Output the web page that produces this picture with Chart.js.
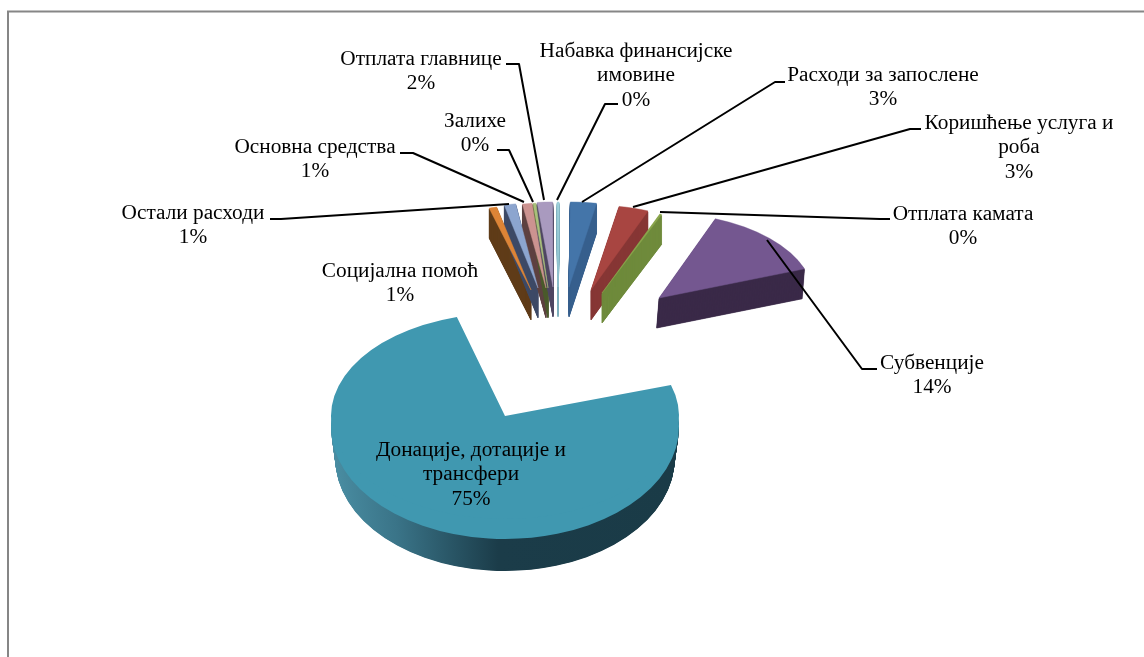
<!DOCTYPE html>
<html><head><meta charset="utf-8">
<style>html,body{margin:0;padding:0;background:#fff;overflow:hidden}canvas{display:block}</style>
<script src="https://cdn.jsdelivr.net/npm/chart.js@4"></script>
</head><body><canvas id="c" width="1144" height="657"></canvas>
<script>
// Data
const categories = ['Расходи за запослене','Коришћење услуга и роба','Отплата камата','Субвенције','Донације, дотације и трансфери','Социјална помоћ','Остали расходи','Основна средства','Залихе','Отплата главнице','Набавка финансијске имовине'];
const shares = [2.7,3.1,0.2,13.5,75.4,0.8,1.2,1.0,0.3,1.6,0.2];

// Styling
const topColors  = ['#4475a9','#a84541','#8aa64c','#745790','#4098b0','#dd8436','#8ca5cf','#cc9390','#a9c07a','#a99abf','#9fd0dc'];
const wallColors = ['#375f8e','#873634','#6f8b3c','#3a2a48',null,'#5f3c18','#3d4a66','#5e4140','#4c5a2c','#4f4763','#7fb0bd'];
const explodeX = [-3,19,30,87,-67,-41,-34,-26,-24,-19,-14];
const explodeY = [-41.5,-38.5,-35.5,-30.5,98.5,-38.5,-40.5,-40.5,-40.5,-41.5,-41.5];
const radiusX  = [155,155,155,155,174,155,155,155,155,155,155];
const radiusY  = [85,85,85,85,112,85,85,85,85,85,85];
const turnDeg  = [0.5,0.7,1,-0.3,2.3,2.7,2.9,2.4,2,0.6,0.4];
const wallDepth = [30,30,30,30,32,30,30,30,30,30,30];
const wallShrink = [0,0,0,0,0.025,0,0,0,0,0,0];
const wallLean = [0,0,0,-0.08,0,0,0,0,0,0,0];
const FONT = '21.3px "Liberation Serif"';

// Text blocks: line rows for the category name, anchor of the block, leader path
const labelBlocks = [
 {i:0,lines:['Расходи за запослене'],x:883,y:74,path:[[582,202],[775,82],[785,82]]},
 {i:1,lines:['Коришћење услуга и','роба'],x:1019,y:122,path:[[633,207],[910,129],[921,129]]},
 {i:2,lines:['Отплата камата'],x:963,y:213,path:[[660,212],[880,219],[890,219]]},
 {i:3,lines:['Субвенције'],x:932,y:362,path:[[767,240],[862,369],[877,369]]},
 {i:4,lines:['Донације, дотације и','трансфери'],x:471,y:449,path:null},
 {i:5,lines:['Социјална помоћ'],x:400,y:270,path:null},
 {i:6,lines:['Остали расходи'],x:193,y:212,path:[[270,219],[281,219],[509,204]]},
 {i:7,lines:['Основна средства'],x:315,y:146,path:[[400,153],[413,153],[524,202]]},
 {i:8,lines:['Залихе'],x:475,y:120,path:[[497,150],[509,150],[533,202]]},
 {i:9,lines:['Отплата главнице'],x:421,y:58,path:[[506,64],[519,64],[544,200]]},
 {i:10,lines:['Набавка финансијске','имовине'],x:636,y:50,path:[[557,200],[605,104],[618,104]]}
];

function drawSlice(ctx, arc, i, rx, ry, offX, offY, fill, border){
  ctx.save();
  ctx.translate(arc.x + explodeX[i] + offX, arc.y + explodeY[i] + offY);
  ctx.scale(rx/arc.outerRadius, ry/arc.outerRadius);
  ctx.rotate(turnDeg[i]*Math.PI/180);
  ctx.translate(-arc.x, -arc.y);
  const base = arc.options;
  const o = Object.create(base);
  o.backgroundColor = typeof fill === 'function' ? fill(ctx, arc) : fill;
  o.borderColor = o.backgroundColor;
  o.borderWidth = border;
  o.borderAlign = 'center';
  arc.options = o;
  arc.draw(ctx);
  arc.options = base;
  ctx.restore();
}

function tealWall(ctx, arc){
  const g = ctx.createLinearGradient(arc.x-arc.outerRadius,0,arc.x+arc.outerRadius,0);
  g.addColorStop(0,'#4a8ea3');
  g.addColorStop(0.2,'#3a7488');
  g.addColorStop(0.5,'#1b3c49');
  g.addColorStop(1,'#1a3b47');
  return g;
}

const pie3d = {
  id:'pie3d',
  beforeDatasetDraw(chart,args){
    const ctx = chart.ctx, arcs = args.meta.data;
    arcs.forEach((arc,i)=>{
      for(let d=wallDepth[i];d>=1;d-=0.5){
        const rx = radiusX[i]*(1-wallShrink[i]*d/wallDepth[i]);
        drawSlice(ctx,arc,i,rx,radiusY[i],wallLean[i]*d,d,i===4?tealWall:wallColors[i],i===4?0:0.6);
      }
    });
    arcs.forEach((arc,i)=>{
      drawSlice(ctx,arc,i,radiusX[i],radiusY[i],0,0,topColors[i],i===4?0:0.4);
      if(i===4){ // perspective: the far half of the big slice sits flatter, apex higher
        drawSlice(ctx,arc,i,radiusX[i],103,0,-11,topColors[i],0);
      }
    });
    return false;
  },
  afterDraw(chart){
    const ctx = chart.ctx;
    ctx.save();
    ctx.strokeStyle='#868686'; ctx.lineWidth=2;
    ctx.beginPath(); ctx.moveTo(8,660); ctx.lineTo(8,11.5); ctx.lineTo(1150,11.5); ctx.stroke();
    ctx.strokeStyle='#000'; ctx.lineWidth=2; ctx.lineJoin='round';
    labelBlocks.forEach(b=>{
      if(!b.path) return;
      ctx.beginPath();
      b.path.forEach((p,k)=>k?ctx.lineTo(p[0],p[1]):ctx.moveTo(p[0],p[1]));
      ctx.stroke();
    });
    ctx.fillStyle='#000'; ctx.font=FONT; ctx.textAlign='center'; ctx.textBaseline='middle';
    labelBlocks.forEach(b=>{
      const rows = b.lines.concat([Math.round(shares[b.i])+'%']);
      rows.forEach((t,k)=>ctx.fillText(t,b.x,b.y+1+k*24.6));
    });
    ctx.restore();
  }
};

new Chart(document.getElementById('c').getContext('2d'),{
  type:'pie',
  data:{labels:categories,datasets:[{data:shares,backgroundColor:topColors,borderWidth:0}]},
  options:{responsive:false,animation:false,radius:100,
    plugins:{legend:{display:false},tooltip:{enabled:false}},
    layout:{padding:0}},
  plugins:[pie3d]
});
</script></body></html>
